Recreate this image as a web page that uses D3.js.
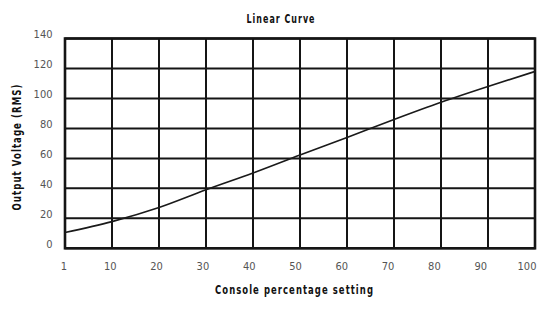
<!DOCTYPE html>
<html>
<head>
<meta charset="utf-8">
<script src="https://cdn.jsdelivr.net/npm/d3@7"></script>
<style>
  html, body { margin: 0; padding: 0; background: #fff; }
  svg { display: block; }
  .tick-label { font-family: "Liberation Sans Narrow", "DejaVu Sans Condensed", sans-serif; font-size: 11px; fill: #555; }
  .title { font-family: "Liberation Sans Narrow", "DejaVu Sans Condensed", sans-serif; font-weight: bold; font-size: 11.5px; fill: #111; letter-spacing: 1.3px; }
</style>
</head>
<body>
<svg id="chart" width="547" height="324"></svg>
<script>
// Console setting (%) categories along the x axis
const settings = ["1", "10", "20", "30", "40", "50", "60", "70", "80", "90", "100"];
// Output voltage (RMS) at each setting
const voltage = [10.5, 17.8, 27.2, 39, 50.2, 62.2, 74, 86, 97.5, 108, 118];
// Voltage gridline / tick values
const voltTicks = [0, 20, 40, 60, 80, 100, 120, 140];

const svg = d3.select("#chart");
const plotLeft = 65, plotRight = 535, plotTop = 38.5, plotBottom = 248.3;

const x = d3.scalePoint().domain(settings).range([plotLeft, plotRight]);
const xLabel = d3.scalePoint().domain(settings).range([64, 527]);
const y = d3.scaleLinear().domain([0, 140]).range([plotBottom, plotTop]);

// Grid
const grid = svg.append("g").attr("stroke", "#151515").attr("stroke-width", 2).attr("fill", "none");
grid.selectAll("line.v").data(settings).join("line")
  .attr("class", "v")
  .attr("x1", d => x(d)).attr("x2", d => x(d))
  .attr("y1", plotTop).attr("y2", plotBottom);
grid.selectAll("line.h").data(voltTicks).join("line")
  .attr("class", "h")
  .attr("x1", plotLeft).attr("x2", plotRight)
  .attr("y1", d => y(d)).attr("y2", d => y(d));
grid.append("rect")
  .attr("x", plotLeft).attr("y", plotTop)
  .attr("width", plotRight - plotLeft).attr("height", plotBottom - plotTop)
  .attr("stroke-width", 2.6);

// Curve
const line = d3.line()
  .x((d, i) => x(settings[i]))
  .y(d => y(d))
  .curve(d3.curveMonotoneX);
svg.append("path")
  .datum(voltage)
  .attr("d", line)
  .attr("fill", "none")
  .attr("stroke", "#1a1a1a")
  .attr("stroke-width", 1.6);

// Y tick labels
svg.selectAll("text.yl").data(voltTicks).join("text")
  .attr("class", "tick-label yl")
  .attr("x", 52.5)
  .attr("y", d => y(d) - 4)
  .attr("text-anchor", "end")
  .attr("dominant-baseline", "central")
  .text(d => d);

// X tick labels
svg.selectAll("text.xl").data(settings).join("text")
  .attr("class", "tick-label xl")
  .attr("x", d => xLabel(d))
  .attr("y", 266)
  .attr("text-anchor", "middle")
  .attr("dominant-baseline", "central")
  .text(d => d);

// Titles: narrow, letter-spaced, fitted to their set widths
function title(text, width) {
  return svg.append("text").attr("class", "title")
    .attr("text-anchor", "middle").attr("dominant-baseline", "central")
    .attr("textLength", width).attr("lengthAdjust", "spacingAndGlyphs")
    .text(text);
}
title("Linear Curve", 69).attr("x", 281).attr("y", 18.5);
title("Console percentage setting", 159).attr("x", 294.5).attr("y", 289.5);
title("Output Voltage (RMS)", 127).attr("transform", "translate(16.5,147) rotate(-90)");
</script>
</body>
</html>
